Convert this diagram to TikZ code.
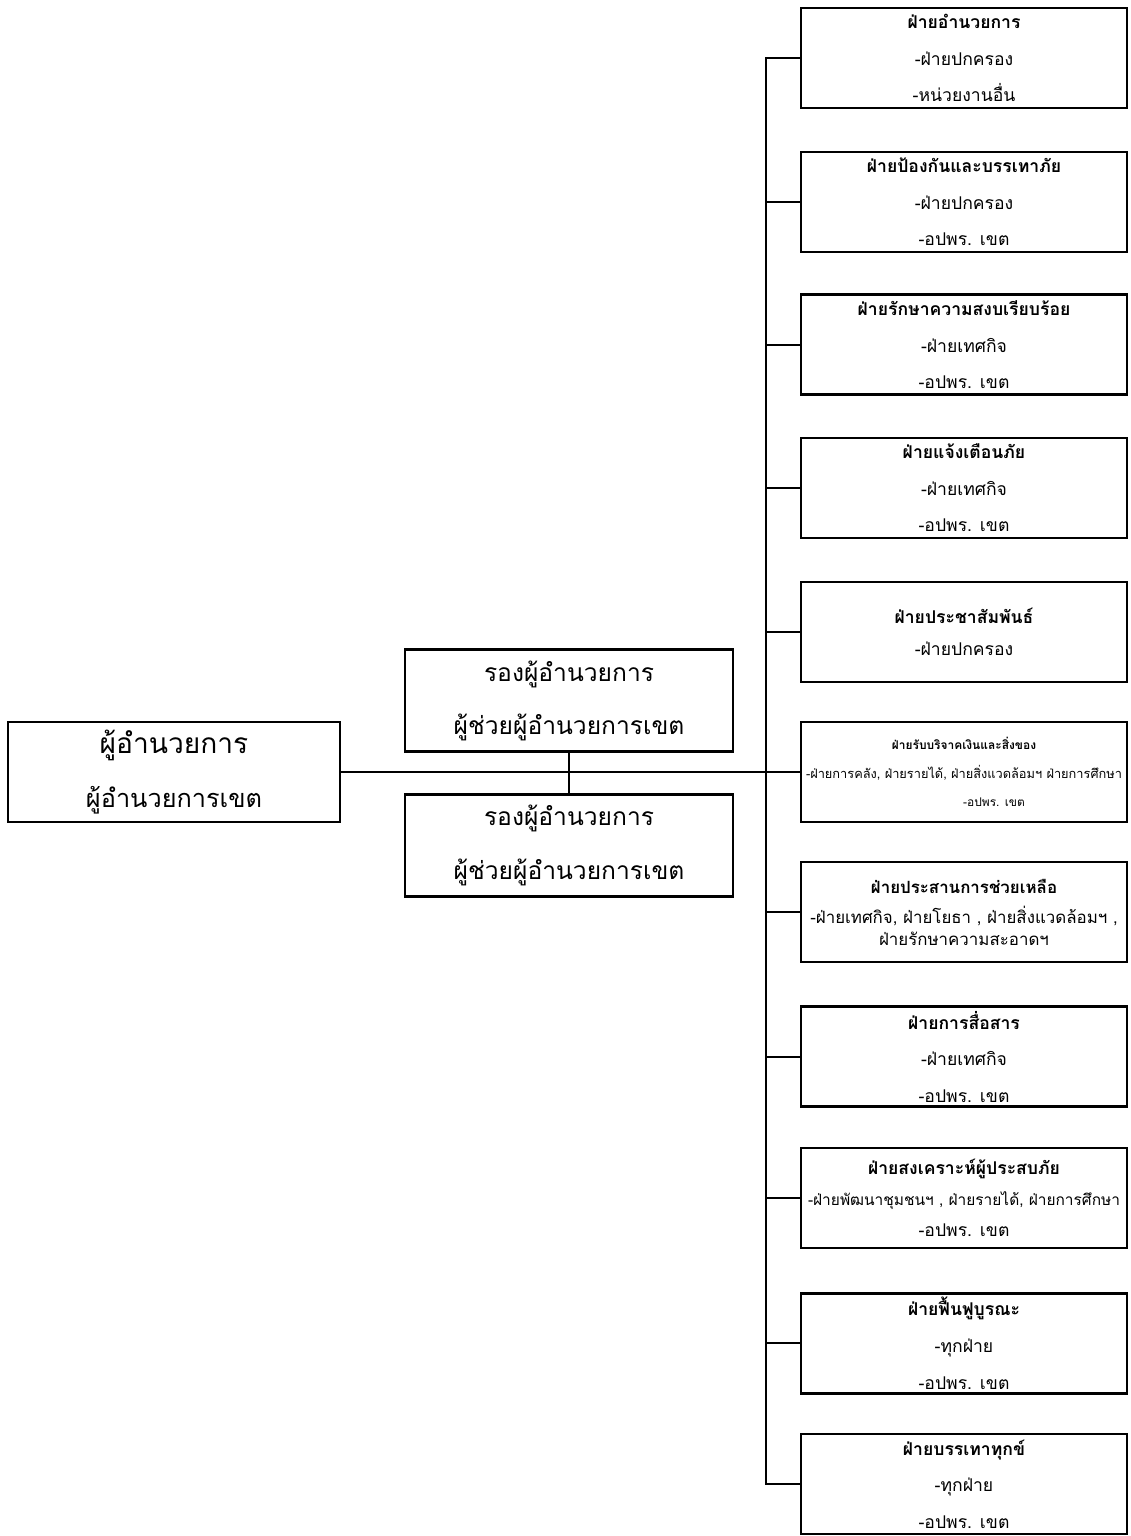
\documentclass[tikz,border=0pt]{standalone}
\usepackage{fontspec}
\newfontfamily\thaifont[Script=Thai]{Loma}
\usetikzlibrary{positioning}

\begin{document}
\begin{tikzpicture}[font=\thaifont]
	\tikzstyle{unitStyle}=[draw, line width = 2pt, minimum width = 8.15cm, minimum height = 2.5cm, inner sep = 0pt, align = center, font = \thaifont\fontsize{12.5}{26}\selectfont]
	\tikzstyle{headStyle}=[draw, line width = 2pt, minimum width = 8.2cm, minimum height = 2.55cm, inner sep = 0pt, align = center, font = \thaifont\fontsize{17.5}{38}\selectfont]
	\tikzstyle{linkStyle}=[line width = 1.5pt]
	\tikzstyle{mainStyle}=[line width = 1pt]
	\useasboundingbox (0, 0) rectangle (28.25, 38.4);
	% head boxes
	\node[headStyle, minimum width = 8.3cm, minimum height = 2.5cm] (d0) at (4.35, 19.1) {{\fontsize{20}{40}\selectfont ผู้อำนวยการ}\\{\fontsize{18}{40}\selectfont ผู้อำนวยการเขต}};
	\node[headStyle] (a0) at (14.225, 20.88) {รองผู้อำนวยการ\\ผู้ช่วยผู้อำนวยการเขต};
	\node[headStyle] (a1) at (14.225, 17.26) {รองผู้อำนวยการ\\ผู้ช่วยผู้อำนวยการเขต};
	% unit boxes
	\node[unitStyle] (u0) at (24.1, 36.95) {\textbf{ฝ่ายอำนวยการ}\\-ฝ่ายปกครอง\\-หน่วยงานอื่น};
	\node[unitStyle] (u1) at (24.1, 33.35) {\textbf{ฝ่ายป้องกันและบรรเทาภัย}\\-ฝ่ายปกครอง\\-อปพร. เขต};
	\node[unitStyle] (u2) at (24.1, 29.78) {\textbf{ฝ่ายรักษาความสงบเรียบร้อย}\\-ฝ่ายเทศกิจ\\-อปพร. เขต};
	\node[unitStyle] (u3) at (24.1, 26.2) {\textbf{ฝ่ายแจ้งเตือนภัย}\\-ฝ่ายเทศกิจ\\-อปพร. เขต};
	\node[unitStyle, font = \thaifont\fontsize{12.5}{23}\selectfont] (u4) at (24.1, 22.6) {\textbf{ฝ่ายประชาสัมพันธ์}\\-ฝ่ายปกครอง};
	\node[unitStyle, font = \thaifont\fontsize{8.5}{20}\selectfont] (u5) at (24.1, 19.1) {\textbf{ฝ่ายรับบริจาคเงินและสิ่งของ}\\{\fontsize{9.1}{20}\selectfont -ฝ่ายการคลัง, ฝ่ายรายได้, ฝ่ายสิ่งแวดล้อมฯ ฝ่ายการศึกษา}\\\hspace*{1.5cm}-อปพร. เขต};
	\node[unitStyle, font = \thaifont\fontsize{12}{22}\selectfont] (u6) at (24.1, 15.6) {\textbf{ฝ่ายประสานการช่วยเหลือ}\\-ฝ่ายเทศกิจ, ฝ่ายโยธา , ฝ่ายสิ่งแวดล้อมฯ ,\\[-7pt]ฝ่ายรักษาความสะอาดฯ};
	\node[unitStyle] (u7) at (24.1, 11.98) {\textbf{ฝ่ายการสื่อสาร}\\-ฝ่ายเทศกิจ\\-อปพร. เขต};
	\node[unitStyle, font = \thaifont\fontsize{12.5}{22}\selectfont] (u8) at (24.1, 8.45) {\textbf{ฝ่ายสงเคราะห์ผู้ประสบภัย}\\{\fontsize{11}{22}\selectfont -ฝ่ายพัฒนาชุมชนฯ , ฝ่ายรายได้, ฝ่ายการศึกษา}\\-อปพร. เขต};
	\node[unitStyle] (u9) at (24.1, 4.82) {\textbf{ฝ่ายฟื้นฟูบูรณะ}\\-ทุกฝ่าย\\-อปพร. เขต};
	\node[unitStyle] (u10) at (24.1, 1.3) {\textbf{ฝ่ายบรรเทาทุกข์}\\-ทุกฝ่าย\\-อปพร. เขต};
	% links
	\draw[mainStyle] (d0.east) -- (u5.west);
	\draw[linkStyle] (a0.south) -- (a1.north);
	\draw[linkStyle] (u0.west) -- ++(-0.85, 0) |- (u10.west);
	\draw[linkStyle] (u1.west) -- ++(-0.85, 0);
	\draw[linkStyle] (u2.west) -- ++(-0.85, 0);
	\draw[linkStyle] (u3.west) -- ++(-0.85, 0);
	\draw[linkStyle] (u4.west) -- ++(-0.85, 0);
	\draw[linkStyle] (u6.west) -- ++(-0.85, 0);
	\draw[linkStyle] (u7.west) -- ++(-0.85, 0);
	\draw[linkStyle] (u8.west) -- ++(-0.85, 0);
	\draw[linkStyle] (u9.west) -- ++(-0.85, 0);
\end{tikzpicture}
\end{document}
